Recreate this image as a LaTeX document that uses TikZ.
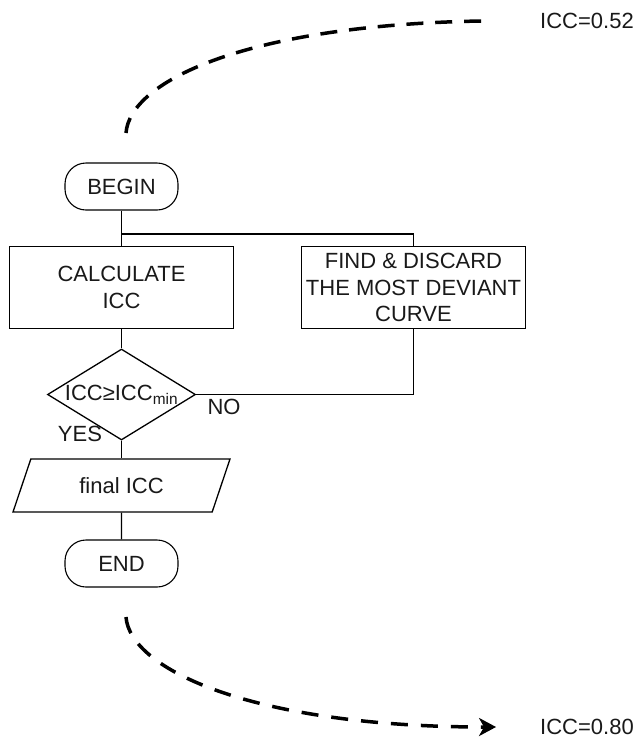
\documentclass[tikz,border=0pt]{standalone}
\usepackage{fontspec}
\setmainfont{Liberation Sans}
\usetikzlibrary{shapes.geometric,arrows.meta}

\begin{document}
\begin{tikzpicture}[x=1pt,y=-1pt,
  every node/.style={font=\fontsize{22}{26.5}\selectfont, text=black!90},
  terminal/.style={draw, rounded corners=21pt, minimum width=113pt, minimum height=47pt, line width=1.1pt},
  process/.style={draw, minimum width=224pt, minimum height=82pt, align=center, inner sep=0pt, line width=1.3pt},
  decision/.style={draw, diamond, aspect=1.63, minimum width=148pt, minimum height=91pt, inner sep=-3pt, line width=1.3pt},
  io/.style={draw, trapezium, trapezium left angle=52, trapezium right angle=128, trapezium stretches body, minimum width=217pt, minimum height=53pt, line width=1.3pt},
  flow/.style={line width=1.3pt},
  trend/.style={line width=3.5pt, dash pattern=on 17pt off 13pt}]
\useasboundingbox (0,0) rectangle (636,740);
% flowchart
\node[terminal] (begin) at (121.5,186.5) {BEGIN};
\node[process] (calc) at (121.5,287.5) {CALCULATE\\ICC};
\node[process] (find) at (413.5,287.5) {FIND \& DISCARD\\THE MOST DEVIANT\\CURVE};
\node[decision] (test) at (121.5,394.5) {ICC≥ICC\textsubscript{min}};
\node[io] (final) at (121.5,485.5) {final ICC};
\node[terminal] (end) at (121.5,563.5) {END};
\node (no) at (224,407) {NO};
\node (yes) at (80,434) {YES};
\coordinate (split) at (121.5,234);
\draw[flow] (begin) -- (calc);
\draw[flow] (split) -| (find.north);
\draw[flow] (calc) -- (test);
\draw[flow] (test.east) -| (find.south);
\draw[flow] (test) -- (final);
\draw[flow] (final) -- (end);
% ICC values
\node[anchor=east, inner sep=1pt] (icctop) at (635,21) {ICC=0.52};
\node[anchor=east, inner sep=1pt] (iccbottom) at (635,727) {ICC=0.80};
\coordinate (topstart) at (126,133);
\coordinate (bottomstart) at (126,617);
\draw[trend, dash pattern=on 17pt off 11.85pt] ([xshift=-58pt]icctop.west) .. controls (250,25) and (130,80) .. (topstart);
\draw[trend, -{Stealth[length=17pt,width=18pt,inset=5pt]}] (bottomstart) .. controls (130,670) and (255,727) .. ([xshift=-43pt]iccbottom.west);
\end{tikzpicture}
\end{document}
